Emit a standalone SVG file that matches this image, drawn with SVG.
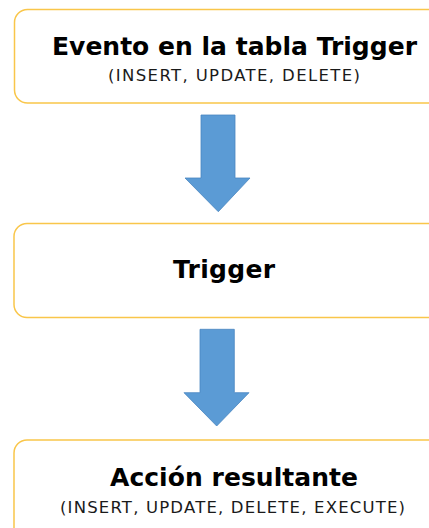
<svg xmlns="http://www.w3.org/2000/svg" width="429" height="528" viewBox="0 0 429 528">
  <style>
    .box { fill: #ffffff; stroke: #f9c64a; stroke-width: 1.5; }
    .title { font-family: "DejaVu Sans", Verdana, sans-serif; font-weight: bold; font-size: 25px; fill: #000000; text-anchor: middle; }
    .sub { font-family: "DejaVu Sans", Verdana, sans-serif; font-size: 16.5px; fill: #1a1a1a; text-anchor: middle; }
    .arrow { fill: #5b9bd5; stroke: #4a86c0; stroke-width: 0.8; stroke-linejoin: miter; }
  </style>
  <rect width="429" height="528" fill="#ffffff"/>

  <g id="connectors">
    <polygon class="arrow" points="201,115 235,115 235,178 250,178 218.3,211.7 185,178 201,178"/>
    <polygon class="arrow" points="200,329.3 234.3,329.3 234.3,392.7 249,392.7 216.7,426 184,392.7 200,392.7"/>
  </g>

  <g id="evento">
    <rect class="box" x="14.5" y="9.5" width="450" height="93.5" rx="13" ry="13"/>
    <text class="title" x="234.5" y="55" textLength="365">Evento en la tabla Trigger</text>
    <text class="sub" x="234" y="81" textLength="252">(INSERT, UPDATE, DELETE)</text>
  </g>

  <g id="trigger">
    <rect class="box" x="14" y="223.5" width="450" height="94" rx="13" ry="13"/>
    <text class="title" x="224" y="278" textLength="102">Trigger</text>
  </g>

  <g id="accion">
    <rect class="box" x="14" y="440" width="450" height="110" rx="13" ry="13"/>
    <text class="title" x="234" y="486" textLength="248">Acción resultante</text>
    <text class="sub" x="232.5" y="513" textLength="345">(INSERT, UPDATE, DELETE, EXECUTE)</text>
  </g>
</svg>
